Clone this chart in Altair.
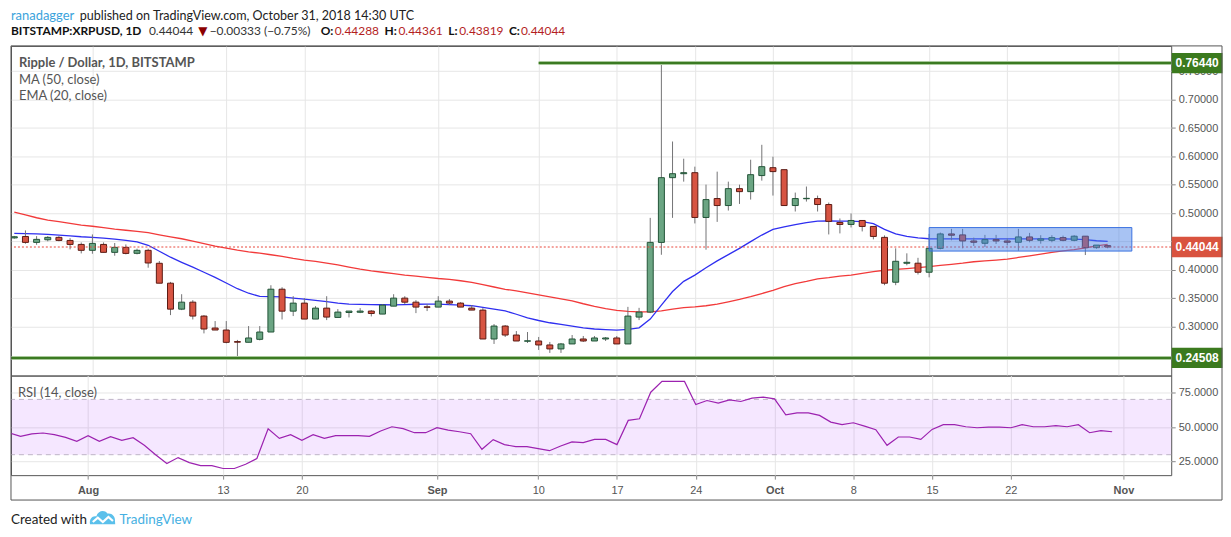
import altair as alt
import pandas as pd

# ---------------- data ----------------
dates = pd.date_range("2018-07-25", "2018-10-31", freq="D").strftime("%Y-%m-%d").tolist()

opens = [0.4565, 0.459, 0.4486, 0.4532, 0.4574, 0.452, 0.445, 0.4346, 0.445, 0.431,
         0.4398, 0.4293, 0.4346, 0.4118, 0.3767, 0.331, 0.3433, 0.3188, 0.2977, 0.2942,
         0.2738, 0.2726, 0.2778, 0.2907, 0.3661, 0.3275, 0.3416, 0.3135, 0.3328, 0.3164,
         0.3251, 0.3255, 0.3276, 0.3223, 0.3363, 0.3504, 0.3433, 0.3350, 0.3346, 0.3451,
         0.3416, 0.3328, 0.3293, 0.2784, 0.3012, 0.2854, 0.2745, 0.2749, 0.2679, 0.2609,
         0.2697, 0.2784, 0.2749, 0.2784, 0.2802, 0.2697, 0.3170, 0.3258, 0.4486, 0.5626,
         0.5696, 0.5714, 0.4925, 0.5258, 0.5135, 0.5433, 0.5380, 0.5663, 0.5802, 0.5767,
         0.5135, 0.5255, 0.5258, 0.5153, 0.4837, 0.4802, 0.4872, 0.4767, 0.4574, 0.3784,
         0.4118, 0.4119, 0.3960, 0.4381, 0.4635, 0.4618, 0.4511, 0.4470, 0.4535, 0.4511,
         0.4488, 0.4582, 0.4523, 0.4523, 0.4570, 0.4523, 0.4595, 0.4393, 0.44288]

closes = [0.4585, 0.4486, 0.4539, 0.4574, 0.4521, 0.445, 0.4346, 0.4468, 0.431, 0.4398,
          0.4292, 0.4346, 0.4123, 0.3767, 0.331, 0.3433, 0.3188, 0.296, 0.2942, 0.2725,
          0.2728, 0.2802, 0.2907, 0.3661, 0.3275, 0.3416, 0.3135, 0.3328, 0.3170, 0.3258,
          0.3276, 0.3276, 0.3234, 0.3381, 0.3504, 0.3433, 0.3346, 0.3343, 0.3451, 0.3416,
          0.3346, 0.3293, 0.2784, 0.3012, 0.2854, 0.2749, 0.2752, 0.2679, 0.2609, 0.2697,
          0.2784, 0.2749, 0.2802, 0.2802, 0.2697, 0.3188, 0.3258, 0.4486, 0.5626, 0.5696,
          0.5714, 0.4925, 0.5240, 0.5135, 0.5433, 0.5380, 0.5679, 0.5820, 0.5733, 0.5135,
          0.5258, 0.5262, 0.5153, 0.4856, 0.4802, 0.4872, 0.4767, 0.4591, 0.3767, 0.4153,
          0.4135, 0.3960, 0.4381, 0.4635, 0.4612, 0.4511, 0.4488, 0.4535, 0.4511, 0.4488,
          0.4582, 0.4523, 0.4547, 0.4570, 0.4523, 0.4595, 0.4393, 0.4438, 0.44044]

highs = [0.460, 0.4697, 0.4596, 0.4596, 0.4596, 0.456, 0.4485, 0.4626, 0.4486, 0.4475,
         0.445, 0.4375, 0.4374, 0.4158, 0.379, 0.3573, 0.3468, 0.3205, 0.310, 0.310,
         0.2768, 0.3012, 0.3012, 0.3731, 0.3696, 0.3538, 0.3503, 0.3363, 0.3538, 0.331,
         0.3276, 0.3328, 0.3293, 0.3398, 0.3573, 0.3538, 0.3468, 0.3398, 0.3538, 0.3486,
         0.3433, 0.3381, 0.3328, 0.3047, 0.303, 0.2924, 0.2907, 0.282, 0.2732, 0.2714,
         0.2854, 0.2837, 0.2837, 0.2819, 0.2837, 0.335, 0.3333, 0.4918, 0.7644, 0.6263,
         0.596, 0.582, 0.5504, 0.5732, 0.5556, 0.5503, 0.5942, 0.6205, 0.5995, 0.5767,
         0.5363, 0.547, 0.531, 0.5188, 0.4907, 0.4995, 0.4872, 0.4767, 0.4609, 0.4381,
         0.4293, 0.4214, 0.4635, 0.466, 0.4724, 0.4724, 0.457, 0.4618, 0.4618, 0.4558,
         0.4724, 0.4653, 0.4612, 0.4612, 0.4605, 0.4612, 0.4595, 0.4438, 0.44361]

lows = [0.455, 0.4462, 0.4444, 0.4505, 0.4505, 0.4363, 0.4292, 0.4286, 0.431, 0.4251,
        0.4275, 0.4275, 0.404, 0.3767, 0.3205, 0.3293, 0.3128, 0.2883, 0.2942, 0.2708,
        0.2451, 0.2726, 0.276, 0.2907, 0.3128, 0.3188, 0.3135, 0.3135, 0.3117, 0.3164,
        0.3164, 0.324, 0.3182, 0.3223, 0.3363, 0.3398, 0.324, 0.3276, 0.3346, 0.3381,
        0.3346, 0.3293, 0.2784, 0.2697, 0.282, 0.2749, 0.2714, 0.2591, 0.2539, 0.2539,
        0.2697, 0.2732, 0.2749, 0.2749, 0.2697, 0.2697, 0.3117, 0.324, 0.4268, 0.4918,
        0.5556, 0.482, 0.4357, 0.4847, 0.5047, 0.5163, 0.524, 0.5574, 0.5311, 0.5135,
        0.503, 0.5205, 0.503, 0.4626, 0.4644, 0.4749, 0.4679, 0.4539, 0.3732, 0.3732,
        0.4082, 0.392, 0.387, 0.4363, 0.4523, 0.4381, 0.4423, 0.4404, 0.4458, 0.4434,
        0.4338, 0.4488, 0.4463, 0.4488, 0.4505, 0.4505, 0.4263, 0.4375, 0.43819]

ma50 = [0.502, 0.497, 0.492, 0.488, 0.485, 0.482, 0.479, 0.477, 0.4745, 0.472,
        0.470, 0.468, 0.4658, 0.462, 0.4585, 0.455, 0.451, 0.4465, 0.442, 0.4385,
        0.435, 0.432, 0.4295, 0.4268, 0.424, 0.4205, 0.4175, 0.415, 0.412, 0.4088,
        0.405, 0.4015, 0.3985, 0.396, 0.3935, 0.391, 0.389, 0.387, 0.385, 0.3836,
        0.381, 0.378, 0.374, 0.370, 0.366, 0.363, 0.3595, 0.356, 0.3525, 0.349,
        0.3455, 0.3405, 0.336, 0.332, 0.329, 0.327, 0.3263, 0.3262, 0.328, 0.331,
        0.3335, 0.335, 0.337, 0.340, 0.344, 0.348, 0.353, 0.3585, 0.364, 0.3705,
        0.376, 0.380, 0.3845, 0.3865, 0.389, 0.391, 0.394, 0.397, 0.3995, 0.401,
        0.4025, 0.404, 0.406, 0.408, 0.410, 0.412, 0.4145, 0.416, 0.4175, 0.419,
        0.422, 0.425, 0.428, 0.431, 0.4335, 0.436, 0.439, 0.4425, 0.445]

ema20 = [0.4644, 0.464, 0.4635, 0.4626, 0.4615, 0.460, 0.4585, 0.4575, 0.456, 0.4545,
         0.452, 0.4495, 0.4435, 0.433, 0.4225, 0.4135, 0.405, 0.396, 0.387, 0.377,
         0.367, 0.359, 0.3535, 0.353, 0.3525, 0.3505, 0.3486, 0.3465, 0.3442, 0.3415,
         0.340, 0.3395, 0.339, 0.3387, 0.3386, 0.339, 0.3396, 0.340, 0.3398, 0.339,
         0.338, 0.337, 0.334, 0.331, 0.328, 0.322, 0.3155, 0.311, 0.307, 0.304,
         0.301, 0.298, 0.296, 0.2948, 0.294, 0.2955, 0.298, 0.3135, 0.338, 0.362,
         0.380, 0.391, 0.404, 0.416, 0.427, 0.438, 0.450, 0.4615, 0.4715, 0.476,
         0.480, 0.4835, 0.486, 0.4865, 0.4862, 0.486, 0.485, 0.4815, 0.4714, 0.4635,
         0.459, 0.4565, 0.455, 0.4548, 0.4547, 0.4547, 0.4547, 0.4547, 0.4547, 0.4547,
         0.4547, 0.4547, 0.4547, 0.4547, 0.4547, 0.4545, 0.4535, 0.4515, 0.4505]

rsi14 = [45.7, 43.3, 45.0, 45.7, 44.5, 42.5, 39.7, 43.8, 39.7, 43.0,
         40.4, 42.3, 36.8, 30.0, 23.6, 27.9, 24.3, 22.1, 22.1, 20.0,
         20.0, 23.1, 27.2, 48.8, 41.8, 44.5, 40.4, 44.5, 41.8, 43.8,
         43.8, 43.8, 43.3, 47.1, 50.2, 48.8, 45.9, 45.9, 49.5, 47.8,
         46.6, 45.2, 33.9, 40.9, 37.3, 35.8, 35.8, 34.4, 32.9, 36.3,
         39.2, 38.7, 41.1, 41.1, 37.3, 54.8, 56.0, 75.2, 83.0, 83.0,
         83.0, 66.3, 69.2, 67.3, 69.7, 68.5, 70.9, 71.6, 70.4, 58.9,
         60.3, 60.3, 58.4, 53.6, 51.7, 53.1, 50.7, 48.1, 36.8, 42.8,
         42.8, 41.1, 48.3, 51.7, 51.7, 50.2, 49.5, 50.0, 50.0, 49.5,
         51.7, 50.2, 50.2, 51.0, 50.2, 51.7, 45.9, 47.4, 46.6]

price_ticks = [0.30, 0.35, 0.40, 0.45, 0.50, 0.55, 0.60, 0.65, 0.70, 0.75]
rsi_ticks = [25, 50, 75]
tick_days = [(8, 1), (8, 13), (8, 20), (9, 1), (9, 10), (9, 17), (9, 24),
             (10, 1), (10, 8), (10, 15), (10, 22), (11, 1)]

resistance = 0.76440
support = 0.24508
last_close = 0.44044
range_box = {"x0": "2018-10-15", "x1": "2018-11-02T04:00:00Z", "top": 0.4747, "bottom": 0.4333}

df = pd.DataFrame({"date": dates, "o": opens, "h": highs, "l": lows, "c": closes,
                   "ma": ma50, "ema": ema20, "rsi": rsi14})

# ---------------- layout constants ----------------
W = 1165
H1 = 331
H2 = 100
AXFONT = "Liberation Sans"
TXTFONT = "Lato"

x_scale = alt.Scale(type="utc", domain=[
    alt.DateTime(year=2018, month=7, date=25, hours=3, minutes=36, utc=True),
    alt.DateTime(year=2018, month=11, date=5, hours=6, utc=True)])
tick_vals = [alt.DateTime(year=2018, month=m, date=d, utc=True) for m, d in tick_days]

ax_main_x = alt.Axis(values=tick_vals, labels=False, ticks=False, domain=False, grid=True,
                     gridColor="#e6e6e6", title=None)
ax_rsi_x = alt.Axis(values=tick_vals, grid=True, gridColor="#e6e6e6", domain=False, ticks=True,
                    tickSize=4, tickColor="#888", title=None, labelFont=AXFONT, labelFontSize=11,
                    labelColor="#555", labelPadding=5, labelOverlap=False,
                    labelExpr="utcdate(datum.value) == 1 ? utcFormat(datum.value, '%b') : '' + utcdate(datum.value)",
                    labelFontWeight={"condition": {"test": "utcdate(datum.value) == 1", "value": "bold"},
                                     "value": "normal"})

y_scale = alt.Scale(domain=[0.2140, 0.7947], nice=False, zero=False)
ax_main_y = alt.Axis(orient="right", values=price_ticks, format=".5f", grid=True, gridColor="#e6e6e6",
                     domain=False, tickSize=4, tickColor="#888", labelFont=AXFONT, labelFontSize=11,
                     labelColor="#555", labelPadding=3, labelOverlap=False, labelSeparation=0,
                     labelBound=False, title=None)
rsi_scale = alt.Scale(domain=[15.2, 87.25], nice=False, zero=False)
ax_rsi_y = alt.Axis(orient="right", values=rsi_ticks, format=".4f", grid=True, gridColor="#e6e6e6",
                    domain=False, tickSize=4, tickColor="#888", labelFont=AXFONT, labelFontSize=11,
                    labelColor="#555", labelPadding=3, labelOverlap=False, title=None)

one = pd.DataFrame({"k": [1]})


def txt(s, x, y, color="#333", size=13, weight="normal", font=TXTFONT, align="left"):
    return alt.Chart(one).mark_text(text=s, align=align, baseline="middle", font=font,
                                    fontSize=size, fontWeight=weight, color=color).encode(
        x=alt.value(x), y=alt.value(y))


X = alt.X("date:T", scale=x_scale, axis=ax_main_x)
Y = lambda f: alt.Y(f, scale=y_scale, axis=ax_main_y)
base = alt.Chart(df)

ma_line = base.mark_line(color="#f23a3a", strokeWidth=1.3, clip=True).encode(x=X, y=Y("ma:Q"))
ema_line = base.mark_line(color="#2f2ff0", strokeWidth=1.3, clip=True).encode(x=X, y=Y("ema:Q"))
wicks = base.mark_rule(color="#737375", strokeWidth=1, clip=True).encode(x=X, y=Y("l:Q"), y2="h:Q")
bodies = base.transform_calculate(dir="datum.c >= datum.o ? 'up' : 'down'").mark_bar(
    size=6, strokeWidth=1, clip=True).encode(
    x=X, y=Y("o:Q"), y2="c:Q",
    fill=alt.Fill("dir:N", scale=alt.Scale(domain=["up", "down"], range=["#6ba583", "#d75442"]), legend=None),
    stroke=alt.Stroke("dir:N", scale=alt.Scale(domain=["up", "down"], range=["#225437", "#5b1a13"]), legend=None))

last_df = pd.DataFrame({"p": [last_close]})
dotted = alt.Chart(last_df).mark_rule(color="#e8473b", strokeDash=[2, 2], strokeWidth=1).encode(y=Y("p:Q"))

box_df = pd.DataFrame([range_box])
box = alt.Chart(box_df).mark_rect(fill="#4a82e6", fillOpacity=0.48, stroke="#3a72e0", strokeWidth=1).encode(
    x=alt.X("x0:T", scale=x_scale, axis=ax_main_x), x2="x1:T", y=Y("top:Q"), y2="bottom:Q")

res_df = pd.DataFrame({"date": ["2018-09-10"], "p": [resistance]})
sup_df = pd.DataFrame({"p": [support]})
res_halo = alt.Chart(res_df).mark_rule(color="#a9c99b", strokeWidth=4).encode(
    x=X, x2=alt.value(W), y=Y("p:Q"))
res_line = alt.Chart(res_df).mark_rule(color="#3b7a22", strokeWidth=2).encode(
    x=X, x2=alt.value(W), y=Y("p:Q"))
sup_halo = alt.Chart(sup_df).mark_rule(color="#a9c99b", strokeWidth=4).encode(y=Y("p:Q"))
sup_line = alt.Chart(sup_df).mark_rule(color="#3b7a22", strokeWidth=2).encode(y=Y("p:Q"))

tags_df = pd.DataFrame({"p": [resistance, last_close, support],
                        "lbl": ["0.76440", "0.44044", "0.24508"],
                        "col": ["#3b7a1e", "#d9533f", "#3b7a1e"]})
tag_box = alt.Chart(tags_df).mark_point(
    shape="M-1,-0.4L1,-0.4L1,0.4L-1,0.4Z", size=2600, filled=True, opacity=1, strokeWidth=0).encode(
    x=alt.value(W + 26), y=Y("p:Q"), color=alt.Color("col:N", scale=None))
tag_txt = alt.Chart(tags_df).mark_text(color="white", fontWeight="bold", fontSize=12, font=AXFONT,
                                       align="center", baseline="middle").encode(
    x=alt.value(W + 26), y=Y("p:Q"), text="lbl:N")

main_texts = [
    txt("Ripple / Dollar, 1D, BITSTAMP", 8, 17, color="#555", size=13, weight="bold"),
    txt("MA (50, close)", 8, 34, color="#555", size=13),
    txt("EMA (20, close)", 8, 50.5, color="#555", size=13),
    txt("ranadagger", 0, -30.5, color="#3ba3dc", size=13),
    txt("published on TradingView.com, October 31, 2018 14:30 UTC", 69, -30.5, color="#222", size=12.6),
    txt("BITSTAMP:XRPUSD, 1D", 0, -14.5, color="#111", size=12, weight="bold"),
    txt("0.44044", 138.5, -14.5, color="#333", size=12),
    txt("\u25bc", 188, -14.5, color="#8b0000", size=12, font="DejaVu Sans"),
    txt("\u22120.00333 (\u22120.75%)", 199.5, -14.5, color="#333", size=12),
    txt("O:", 311, -14.5, color="#111", size=12, weight="bold"),
    txt("0.44288", 325, -14.5, color="#b41e1e", size=12),
    txt("H:", 375, -14.5, color="#111", size=12, weight="bold"),
    txt("0.44361", 389, -14.5, color="#b41e1e", size=12),
    txt("L:", 439, -14.5, color="#111", size=12, weight="bold"),
    txt("0.43819", 450, -14.5, color="#b41e1e", size=12),
    txt("C:", 500, -14.5, color="#111", size=12, weight="bold"),
    txt("0.44044", 512, -14.5, color="#b41e1e", size=12),
]

main = alt.layer(ma_line, ema_line, wicks, bodies, dotted, box, res_halo, sup_halo, res_line, sup_line,
                 tag_box, tag_txt, *main_texts).properties(width=W, height=H1)

# ---------------- RSI panel ----------------
RY = lambda f: alt.Y(f, scale=rsi_scale, axis=ax_rsi_y)
RX = alt.X("date:T", scale=x_scale, axis=ax_rsi_x)
band_df = pd.DataFrame({"lo": [30], "hi": [70]})
band = alt.Chart(band_df).mark_rect(color="#9915ff", opacity=0.1).encode(
    x=alt.value(0), x2=alt.value(W), y=RY("hi:Q"), y2="lo:Q")
lvl_df = pd.DataFrame({"v": [30, 70]})
levels = alt.Chart(lvl_df).mark_rule(color="#bdb3c6", strokeDash=[5, 4], strokeWidth=1).encode(y=RY("v:Q"))
rsi_line = base.mark_line(color="#9c22b0", strokeWidth=1.2, clip=True).encode(x=RX, y=RY("rsi:Q"))

frame = alt.Chart(one).mark_rect(fillOpacity=0, stroke="#555", strokeWidth=1).encode(
    x=alt.value(0), x2=alt.value(1216), y=alt.value(-H1), y2=alt.value(H2 + 25))

logo_cloud = alt.Chart(one).mark_point(
    shape="M-1,0.5C-1.08,0.05 -0.78,-0.2 -0.5,-0.12C-0.38,-0.55 0.12,-0.7 0.38,-0.35C0.72,-0.42 1.02,-0.12 0.98,0.2L1,0.5Z",
    size=640, filled=True, opacity=1, color="#5bc0eb", strokeWidth=0).encode(
    x=alt.value(92), y=alt.value(143))
logo_zig = alt.Chart(one).mark_point(
    shape="M-0.78,0.32L-0.38,-0.02L0.02,0.32L0.46,-0.08L0.82,0.24",
    size=640, filled=False, opacity=1, color="white", strokeWidth=2.2).encode(
    x=alt.value(92), y=alt.value(143))

rsi_texts = [
    txt("RSI (14, close)", 7, 17.5, color="#555", size=13),
    txt("Created with", 0, 145, color="#222", size=13.5),
    txt("TradingView", 109, 145, color="#45b0e2", size=13.5),
]

rsi = alt.layer(band, levels, rsi_line, frame, logo_cloud, logo_zig, *rsi_texts).properties(
    width=W, height=H2)

chart = alt.vconcat(main, rsi, spacing=0, bounds="flush").properties(padding=0).configure_view(
    stroke="#555", strokeWidth=1).configure_axis(labelOverlap=False)

chart.save("out.html", embed_options={"renderer": "svg", "actions": False})
